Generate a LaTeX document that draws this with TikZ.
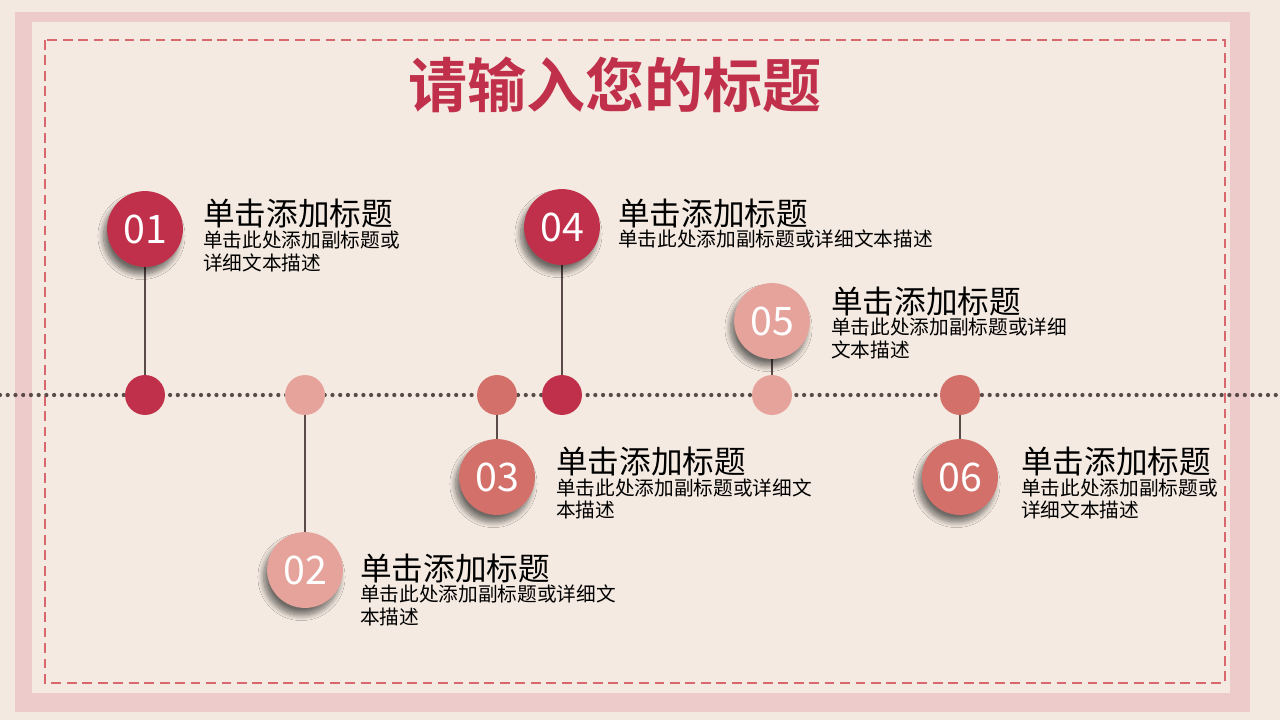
\documentclass[tikz,border=0pt]{standalone}
\usepackage{fontspec}
\setmainfont{Noto Sans CJK SC}
\newfontfamily\cjkb{Noto Sans CJK SC Bold}
\usetikzlibrary{shadows.blur}
\definecolor{bg}{HTML}{F3E9E0}
\definecolor{panel}{HTML}{F4EAE1}
\definecolor{frame}{HTML}{E0A0A0}
\definecolor{dashcol}{HTML}{D9686E}
\definecolor{cA}{HTML}{C0304A}
\definecolor{cB}{HTML}{E5A39B}
\definecolor{cC}{HTML}{D4706A}
\definecolor{dots}{HTML}{5A4A48}
\tikzset{
 big/.style={circle,minimum size=76*1.42pt,inner sep=0,text=white,font=\fontsize{56}{56}\selectfont,blur shadow={shadow xshift=-5pt,shadow yshift=-10pt,shadow blur steps=12,shadow blur radius=8pt,shadow opacity=55}},
 small/.style={circle,minimum size=40*1.42pt,inner sep=0},
 ttl/.style={anchor=west,inner sep=0,font=\fontsize{45}{45}\selectfont},
 sub/.style={anchor=west,inner sep=0,font=\fontsize{28}{28}\selectfont},
 stem/.style={draw=dots,line width=1.8pt}
}
\begin{document}
\begin{tikzpicture}[x=0.05cm,y=-0.05cm]
\useasboundingbox (0,0) rectangle (1280,720);
\fill[bg] (0,0) rectangle (1280,720);
\fill[frame!55] (15,12) rectangle (1250,712);
\fill[panel] (32,22) rectangle (1230,693);
\draw[dashcol,line width=2.5pt,dash pattern=on 14pt off 8pt] (45,40) rectangle (1225,683);
\node[text=cA,font=\cjkb\fontsize{84}{84}\selectfont] (t) at (615,85) {请输入您的标题};
\draw[dots,line width=6pt,line cap=round,dash pattern=on 0pt off 11pt] (0,395) -- (1280,395);
\foreach \n/\x/\y/\c in {1/145/229/cA,2/305/570/cB,3/497/477/cC,4/562/227/cA,5/772/321/cB,6/960/477/cC}{
 \node[small,fill=\c] (s\n) at (\x,395) {};
 \draw[stem] (s\n) -- (\x,\y);
 \node[big,fill=\c] (b\n) at (\x,\y) {0\n};
}
\node[ttl] (h1) at (203,213) {单击添加标题};
\node[sub] at (203,240) {单击此处添加副标题或};
\node[sub] at (203,263) {详细文本描述};
\node[ttl] (h4) at (618,213) {单击添加标题};
\node[sub] at (618,239) {单击此处添加副标题或详细文本描述};
\node[ttl] (h5) at (831,301) {单击添加标题};
\node[sub] at (831,327) {单击此处添加副标题或详细};
\node[sub] at (831,350) {文本描述};
\node[ttl] (h3) at (556,461) {单击添加标题};
\node[sub] at (556,488) {单击此处添加副标题或详细文};
\node[sub] at (556,510) {本描述};
\node[ttl] (h6) at (1021,461) {单击添加标题};
\node[sub] at (1021,488) {单击此处添加副标题或};
\node[sub] at (1021,510) {详细文本描述};
\node[ttl] (h2) at (360,568) {单击添加标题};
\node[sub] at (360,594) {单击此处添加副标题或详细文};
\node[sub] at (360,617) {本描述};
\end{tikzpicture}
\end{document}
